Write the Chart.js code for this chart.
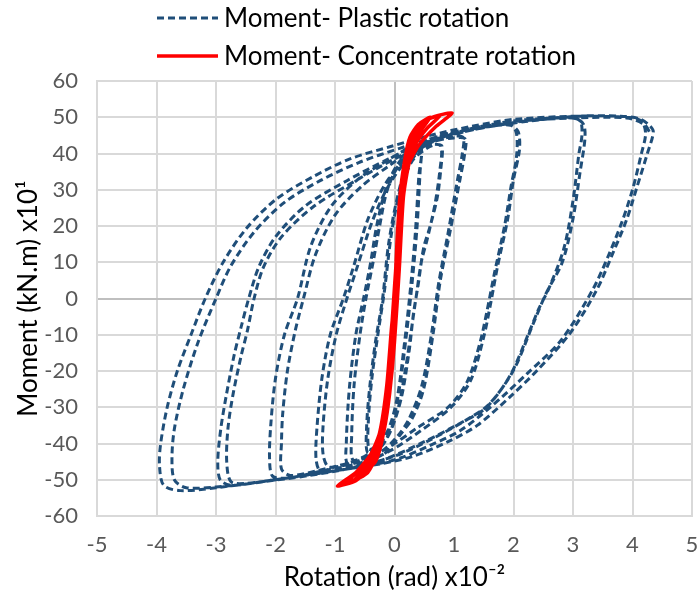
<!DOCTYPE html>
<html>
<head>
<meta charset="utf-8">
<script src="https://cdn.jsdelivr.net/npm/chart.js@4.4.1/dist/chart.umd.min.js"></script>
<style>
  html, body { margin: 0; padding: 0; background: #fff; }
  #wrap { width: 697px; height: 597px; }
</style>
</head>
<body>
<div id="wrap"><canvas id="myChart" width="697" height="597"></canvas></div>
<script>
// [rotation x10^-2 rad, moment x10^1 kN.m], one array per loop amplitude
const plasticStage1 = [
  [0,0],[0.05,15],[0.1,28],[0.2,36],[0.35,40],[0.45,41.5],
  [0.43,35],[0.38,20],[0.3,5],[0.2,-10],[0.08,-25],[-0.05,-35],[-0.25,-40],[-0.45,-42.5],
  [-0.47,-36],[-0.42,-25],[-0.32,-12],[-0.2,0],[-0.1,15],[0.05,28],[0.2,36],[0.45,41],
  [0.41,34],[0.35,18],[0.27,3],[0.17,-12],[0.05,-27],[-0.1,-36],[-0.3,-40.5],[-0.43,-41.5],
  [-0.44,-34],[-0.38,-22],[-0.28,-10],[-0.17,2],[-0.05,18],[0.1,30],[0.3,38],[0.55,41.5]
];
const plasticStage2 = [
  [0.7,42.5],[0.8,42],
  [0.78,36],[0.72,28],[0.6,20],[0.49,14],[0.4,4],[0.32,-4],[0.25,-14],[0.12,-27],[-0.05,-36],[-0.23,-41],[-0.5,-44],[-0.79,-45.5],
  [-0.81,-40],[-0.76,-25],[-0.65,-10],[-0.52,0],[-0.4,10],[-0.3,20],[-0.15,30],[0.05,37],[0.3,41],[0.6,42.5],[0.78,42],
  [0.76,35],[0.68,26],[0.56,17],[0.45,10],[0.36,0],[0.28,-9],[0.18,-20],[0.05,-31],[-0.15,-39],[-0.45,-43],[-0.7,-44.5],
  [-0.72,-38],[-0.68,-24],[-0.58,-10],[-0.48,0],[-0.36,10],[-0.25,20],[-0.12,30],[0.1,37.5],[0.4,41.5],[0.7,43.5],[1.0,44.3]
];
const plasticStage3 = [
  [1.19,44],
  [1.18,40],[1.1,32.8],[0.94,19],[0.77,5],[0.65,-9.6],[0.49,-25],[0.3,-33],[0.1,-37.5],[-0.18,-42.9],[-0.6,-45.2],[-1.0,-46.5],[-1.25,-47.5],[-1.32,-44],
  [-1.3,-35],[-1.22,-22],[-1.08,-10],[-0.86,0],[-0.69,8.7],[-0.45,21.7],[-0.18,30.9],[0.1,37],[0.5,42],[0.9,44.5],[1.15,44.5],
  [1.14,40],[1.05,32],[0.9,18],[0.74,4],[0.62,-10],[0.46,-24],[0.25,-33],[0.05,-38],[-0.25,-42.5],[-0.7,-45],[-1.1,-46.5],[-1.2,-43],
  [-1.2,-35],[-1.12,-22],[-0.98,-10],[-0.8,0],[-0.62,9],[-0.38,21],[-0.12,30.5],[0.2,38],[0.6,43],[1.1,46],[1.6,47.5],[1.95,47.8]
];
const plasticStage4 = [
  [2.08,46],[2.1,41],[2.0,32.8],[1.9,21.7],[1.73,8.7],[1.62,-1],[1.5,-10.6],[1.28,-22.6],[0.95,-30],[0.44,-36.5],[-0.07,-42],[-0.6,-45.5],[-1.2,-47.5],[-1.8,-49.5],[-2.05,-49],[-2.1,-44],
  [-2.08,-35],[-2.0,-22],[-1.85,-10],[-1.63,0],[-1.41,14.3],[-1.07,25.3],[-0.62,32.8],[-0.18,37.5],[0.3,42],[0.9,45.5],[1.5,47.5],[1.95,48],
  [2.05,45.5],[2.05,39],[1.96,31],[1.85,20],[1.68,7],[1.56,-3],[1.44,-12],[1.22,-23],[0.9,-30],[0.4,-35.5],[-0.15,-41.5],[-0.7,-45],[-1.3,-47.5],[-1.75,-48.8],[-1.9,-47],[-1.9,-40],
  [-1.88,-32],[-1.8,-20],[-1.67,-9],[-1.53,0],[-1.33,12],[-1.0,23],[-0.55,31],[-0.1,36.5],[0.4,42],[1.2,46.5],[2.0,49],[2.7,49.8],[3.05,49.6]
];
const plasticStage5 = [
  [3.18,48],[3.2,44],[3.12,35],[3.0,22],[2.82,10],[2.55,1.5],[2.33,-7],[2.0,-19.8],[1.6,-29],[1.28,-32.8],[0.6,-39],[0.0,-43.5],[-0.8,-47],[-1.5,-49],[-2.2,-50.5],[-2.75,-51.5],[-2.93,-50],[-2.97,-45],
  [-2.92,-36],[-2.83,-27],[-2.7,-16],[-2.58,-8],[-2.45,0],[-2.28,8.7],[-2.0,17],[-1.5,25.5],[-0.8,32.5],[-0.1,38.5],[0.5,43],[1.3,46.5],[2.2,49],[2.9,50],[3.12,49],
  [3.15,45],[3.1,40],[3.0,27],[2.85,14],[2.6,3],[2.42,-3],[2.27,-9],[1.95,-21],[1.55,-30],[1.15,-34],[0.5,-39.5],[-0.2,-44.5],[-1.0,-47.5],[-1.8,-49.5],[-2.5,-51],[-2.75,-50.5],[-2.82,-45],
  [-2.8,-36],[-2.72,-27],[-2.58,-16],[-2.47,-8.7],[-2.36,0],[-2.2,8.7],[-1.9,17],[-1.35,25.5],[-0.6,33],[0.0,38.5],[0.6,43],[1.3,46.5],[2.2,48.8],[3.1,50.3],[3.8,50.3],[4.13,49.5]
];
const plasticStage6 = [
  [4.3,47.5],[4.35,45.8],[4.25,40],[4.08,31],[3.9,21.7],[3.67,12.5],[3.4,2.4],[2.95,-9.6],[2.4,-19.8],[1.95,-27],[1.39,-35],[0.9,-39.5],[0.32,-43.5],[-0.23,-45.6],[-1.0,-47.5],[-2.0,-50],[-3.0,-52.2],[-3.6,-53],[-3.88,-51.5],[-3.95,-46],
  [-3.93,-40],[-3.82,-30],[-3.65,-20],[-3.42,-10],[-3.18,0],[-2.88,10],[-2.48,19.5],[-1.98,27.5],[-1.38,33.5],[-0.75,38.5],[-0.05,42],[0.6,45],[1.3,47.5],[2.0,49.4],[3.1,50.3],[3.9,50],[4.15,49],
  [4.22,45.5],[4.15,40],[4.0,30],[3.82,21],[3.6,12],[3.33,2.4],[2.8,-11.5],[2.23,-20.7],[1.61,-30],[1.1,-36.5],[0.6,-40.5],[0.1,-44],[-0.4,-46],[-1.2,-48],[-2.2,-50.5],[-3.0,-52],[-3.5,-52.2],[-3.7,-50],[-3.74,-44],
  [-3.7,-36],[-3.55,-25],[-3.3,-12],[-3.0,0],[-2.75,9],[-2.35,18.5],[-1.85,26.5],[-1.25,32.5],[-0.6,37.5],[0.1,41.5],[0.7,44.5],[1.3,46.8],[2.0,48.8],[3.0,49.8],[3.9,49.8],[4.2,48],[4.3,45.5]
];

const concStage1 = [
  [0,0],[0.04,15],[0.09,28],[0.15,36],[0.22,42],[0.3,45.5],[0.45,47.5],
  [0.32,44],[0.22,39],[0.15,33],[0.09,20],[0.04,5],[-0.02,-12],[-0.08,-25],[-0.15,-33],[-0.25,-40],[-0.4,-45.5],[-0.45,-47],
  [-0.32,-45],[-0.22,-40],[-0.15,-33],[-0.08,-20],[-0.01,0],[0.05,16],[0.11,30]
];
const concStage2 = [
  [0.18,39],[0.26,44.5],[0.4,48],[0.6,50],
  [0.45,46.5],[0.3,42],[0.2,37],[0.13,28],[0.07,10],[0,-10],[-0.07,-24],[-0.15,-34],[-0.26,-42],[-0.45,-48],[-0.69,-50.3],
  [-0.45,-46.5],[-0.3,-42],[-0.2,-36],[-0.1,-22],[-0.02,-3],[0.05,16],[0.12,31]
];
const concStage3 = [
  [0.2,40],[0.3,45.5],[0.5,49],[0.77,50.5],
  [0.55,47],[0.35,42.5],[0.22,37.5],[0.14,28],[0.07,8],[0,-12],[-0.08,-26],[-0.17,-36],[-0.3,-44],[-0.55,-49],[-0.85,-51],
  [-0.55,-47],[-0.35,-42.5],[-0.22,-37],[-0.11,-23],[-0.03,-4],[0.05,15],[0.13,31]
];
const concStage4 = [
  [0.22,41],[0.35,46.5],[0.6,49.8],[0.97,51.2],
  [0.7,47.5],[0.42,42.5],[0.25,37.5],[0.15,28],[0.08,8],[0,-12],[-0.09,-27],[-0.2,-38],[-0.38,-46],[-0.65,-50.3],[-0.96,-51.7],
  [-0.65,-48],[-0.4,-43],[-0.25,-37],[-0.13,-24],[-0.05,-8],[0,0]
];

const seriesNames = ['Moment- Plastic rotation', 'Moment- Concentrate rotation'];
const xTicks = [-5, -4, -3, -2, -1, 0, 1, 2, 3, 4, 5];
const yTicks = [-60, -50, -40, -30, -20, -10, 0, 10, 20, 30, 40, 50, 60];

const FONT = 'Lato, "Open Sans", sans-serif';

function toPoints(stages) {
  return [].concat(...stages).map(p => ({x: p[0], y: p[1]}));
}

// two-row legend, rows share one left edge like the original
const legendRows = {
  id: 'legendRows',
  afterDraw(chart) {
    const ctx = chart.ctx;
    ctx.save();
    ctx.font = '26px ' + FONT;
    ctx.textBaseline = 'middle';
    ctx.fillStyle = '#000';
    chart.data.datasets.forEach((ds, i) => {
      const y = 18 + i * 38;
      ctx.strokeStyle = ds.borderColor;
      ctx.lineWidth = ds.borderWidth;
      ctx.setLineDash(ds.borderDash || []);
      ctx.beginPath();
      ctx.moveTo(157, y);
      ctx.lineTo(218, y);
      ctx.stroke();
      ctx.setLineDash([]);
      ctx.fillText(ds.label, 224, y + 1);
    });
    ctx.restore();
  }
};

function gridColor(c) {
  return c.tick && c.tick.value === 0 ? '#bfbfbf' : '#d9d9d9';
}

const ctx = document.getElementById('myChart').getContext('2d');
const myChart = new Chart(ctx, {
  type: 'scatter',
  plugins: [legendRows],
  data: {
    datasets: [{
      label: seriesNames[0],
      data: toPoints([plasticStage1, plasticStage2, plasticStage3, plasticStage4, plasticStage5, plasticStage6]),
      showLine: true,
      borderColor: '#1F4E79',
      borderWidth: 3,
      borderDash: [7, 4],
      pointRadius: 0,
      tension: 0.3,
      order: 1
    }, {
      label: seriesNames[1],
      data: toPoints([concStage1, concStage2, concStage3, concStage4]),
      showLine: true,
      borderColor: '#FF0000',
      borderWidth: 3.5,
      pointRadius: 0,
      tension: 0.2,
      order: 0
    }]
  },
  options: {
    responsive: false,
    animation: false,
    layout: { padding: { top: 81, left: 10, right: 5, bottom: 0 } },
    plugins: {
      legend: { display: false },
      tooltip: { enabled: false }
    },
    scales: {
      x: {
        type: 'linear',
        min: -5, max: 5,
        afterBuildTicks(scale) { scale.ticks = xTicks.map(v => ({value: v})); },
        afterFit(scale) { scale.height = 81; scale.paddingLeft = 0; scale.paddingRight = 0; },
        grid: { color: gridColor, lineWidth: 2, drawTicks: false },
        border: { display: true, color: '#d9d9d9', width: 2 },
        ticks: { color: '#595959', padding: 16, font: { family: FONT, size: 22 } },
        title: {
          display: true,
          text: 'Rotation (rad) x10⁻²',
          color: '#000',
          padding: { top: 0, bottom: 4 },
          font: { family: FONT, size: 26 }
        }
      },
      y: {
        type: 'linear',
        min: -60, max: 60,
        afterBuildTicks(scale) { scale.ticks = yTicks.map(v => ({value: v})); },
        afterFit(scale) { scale.width = 87; },
        grid: { color: gridColor, lineWidth: 2, drawTicks: false },
        border: { display: true, color: '#d9d9d9', width: 2 },
        ticks: { color: '#595959', padding: 19, font: { family: FONT, size: 22 } },
        title: {
          display: true,
          text: 'Moment (kN.m) x10¹',
          color: '#000',
          padding: { top: 3, bottom: 0 },
          font: { family: FONT, size: 26 }
        }
      }
    }
  }
});
</script>
